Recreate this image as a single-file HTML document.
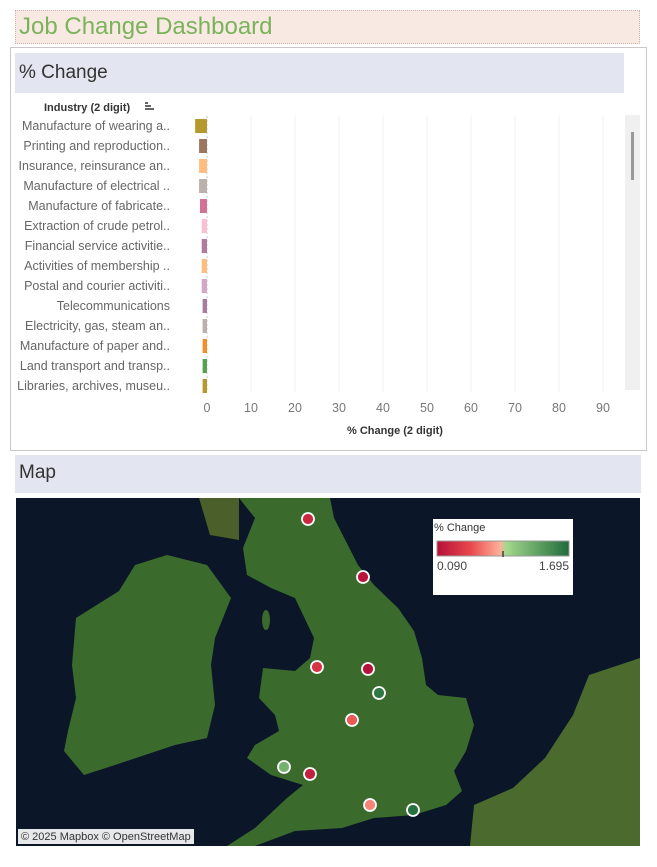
<!DOCTYPE html>
<html><head><meta charset="utf-8">
<style>
body{margin:0;width:657px;height:867px;background:#fff;font-family:"Liberation Sans",sans-serif;position:relative;overflow:hidden}
.abs{position:absolute}
</style></head><body>
<div class="abs" style="left:15px;top:10px;width:625px;height:34px;background:#f9e9e3;border:1px dotted #c9b4ab;box-sizing:border-box"></div>
<div class="abs" style="left:19px;top:13px;font-size:24px;color:#7ab35a">Job Change Dashboard</div>
<div class="abs" style="left:10px;top:47px;width:637px;height:404px;border:1px solid #c8c8c8;box-sizing:border-box"></div>
<div class="abs" style="left:15px;top:53px;width:609px;height:40px;background:#e3e6f0"></div>
<div class="abs" style="left:19px;top:62px;font-size:19px;color:#333">% Change</div>
<div class="abs" style="left:625px;top:115px;width:15px;height:275px;background:#f0f0f0"></div>
<div class="abs" style="left:631px;top:132px;width:3px;height:48px;background:#999"></div>
<svg class="abs" style="left:0;top:0" width="657" height="460" id="bars"></svg>
<div class="abs" style="left:15px;top:455px;width:626px;height:38px;background:#e3e6f0"></div>
<div class="abs" style="left:19px;top:462px;font-size:19px;color:#333">Map</div>
<svg class="abs" style="left:16px;top:498px" width="624" height="348" id="map">
<rect width="624" height="348" fill="#0b1628"/>
<g transform="translate(-16,-498)" fill="#3b6b2c">
<polygon points="239,498 330,498 334,518 358,565 374,585 398,608 414,631 422,658 426,685 438,695 466,698 474,725 466,751 454,771 462,791 446,805 414,815 374,818 342,828 295,831 255,846 227,846 255,828 287,798 303,785 271,775 247,758 255,745 279,731 275,715 259,698 263,668 295,671 310,658 314,638 295,598 271,588 247,575 243,548 255,518"/>
<polygon points="199,498 239,498 239,540 210,535" fill="#4a5f2a"/>
<polygon points="167,555 207,565 231,598 215,638 211,665 215,705 207,738 175,745 115,765 84,775 64,751 68,731 76,698 72,665 76,618 119,591 135,565"/>
<polygon points="640,658 589,675 573,715 545,758 513,788 474,805 470,846 640,846" fill="#4a6a2e"/>
<ellipse cx="266" cy="620" rx="4" ry="10" fill="#3b6b2c"/>
</g>
<g id="pts"></g>
<rect x="417" y="21" width="140" height="76" fill="#fff"/>
<defs><linearGradient id="g"><stop offset="0" stop-color="#b5103a"/><stop offset="0.25" stop-color="#e8474a"/><stop offset="0.48" stop-color="#fdb29a"/><stop offset="0.52" stop-color="#a5d98e"/><stop offset="1" stop-color="#1f6b3a"/></linearGradient></defs>
<text x="418" y="33" font-size="11" fill="#333">% Change</text>
<rect x="421" y="43" width="132" height="15" fill="url(#g)" stroke="#999"/>
<line x1="487" y1="53" x2="487" y2="59" stroke="#000"/>
<text x="421" y="72" font-size="12" fill="#444">0.090</text>
<text x="553" y="72" font-size="12" fill="#444" text-anchor="end">1.695</text>
<rect x="2" y="331" width="176" height="15" fill="#fff" opacity="0.9"/>
<text x="5" y="342" font-size="11" fill="#333">© 2025 Mapbox © OpenStreetMap</text>
</svg>
<script>
const industries=["Manufacture of wearing a..","Printing and reproduction..","Insurance, reinsurance an..","Manufacture of electrical ..","Manufacture of fabricate..","Extraction of crude petrol..","Financial service activitie..","Activities of membership ..","Postal and courier activiti..","Telecommunications","Electricity, gas, steam an..","Manufacture of paper and..","Land transport and transp..","Libraries, archives, museu.."];
const changes=[-2.7,-1.8,-1.8,-1.8,-1.6,-1.2,-1.2,-1.2,-1.2,-1.0,-1.0,-1.0,-1.0,-1.0];
const colors=["#b6992d","#9d7660","#ffbe7d","#bab0ac","#d37295","#fabfd2","#b07aa1","#ffbe7d","#d4a6c8","#a87c9f","#bab0ac","#f28e2b","#59a14f","#b6992d"];
const ticks=[0,10,20,30,40,50,60,70,80,90];
const ns="http://www.w3.org/2000/svg";
const svg=document.getElementById('bars');
const x=v=>207+v*4.4, y=i=>126+i*20;
function mk(t,a){const e=document.createElementNS(ns,t);for(const k in a)e.setAttribute(k,a[k]);return e;}
ticks.forEach(t=>{
 const l=mk('line',{x1:x(t),x2:x(t),y1:116,y2:392,stroke:t===0?'#ccc':'#f0f0f0','stroke-dasharray':t===0?'2,2':''});
 
 
 svg.appendChild(l);
 const tx=mk('text',{x:x(t),y:412,'font-size':12.5,fill:'#777','text-anchor':'middle'});tx.textContent=t;
 
 
 svg.appendChild(tx);
});
industries.forEach((n,i)=>{
 const tx=mk('text',{x:170,y:y(i)+4,'font-size':12.5,fill:'#666','text-anchor':'end'});tx.textContent=n;
 
 
 svg.appendChild(tx);
 const v=changes[i];
 const r=mk('rect',{x:Math.min(x(v),x(0)),y:y(i)-7,width:Math.abs(x(v)-x(0)),height:14,fill:colors[i]});
 
 
 svg.appendChild(r);
});
const h=mk('text',{x:44,y:111,'font-size':11,'font-weight':'bold',fill:'#333'});h.textContent='Industry (2 digit)';


svg.appendChild(h);
[0,1,2].forEach(k=>{const l=mk('line',{x1:145,x2:148+k*3,y1:103+k*3,y2:103+k*3,stroke:'#333','stroke-width':1.5});svg.appendChild(l);});
const at=mk('text',{x:395,y:434,'font-size':11,'font-weight':'bold',fill:'#333','text-anchor':'middle'});at.textContent='% Change (2 digit)';


svg.appendChild(at);

const ptX=[308,363,317,368,379,352,284,310,370,413];
const ptY=[519,577,667,669,693,720,767,774,805,810];
const ptVal=[0.25,0.12,0.35,0.10,1.60,0.55,1.20,0.20,0.70,1.65];
function col(v){const t=(v-0.09)/(1.695-0.09);
 const st=[[0,[181,16,58]],[0.25,[232,71,74]],[0.48,[253,178,154]],[0.52,[165,217,142]],[1,[31,107,58]]];
 for(let i=1;i<st.length;i++){if(t<=st[i][0]){const a=st[i-1],b=st[i],f=(t-a[0])/(b[0]-a[0]);return 'rgb('+a[1].map((c,j)=>Math.round(c+(b[1][j]-c)*f)).join(',')+')';}}return 'rgb(31,107,58)';}
const pts=document.getElementById('pts');
ptX.forEach((px,i)=>{
 const c=mk('circle',{cx:px-16,cy:ptY[i]-498,r:6,fill:col(ptVal[i]),stroke:'#fff','stroke-width':1.8});
 
 
 pts.appendChild(c);
});
</script>
</body></html>
